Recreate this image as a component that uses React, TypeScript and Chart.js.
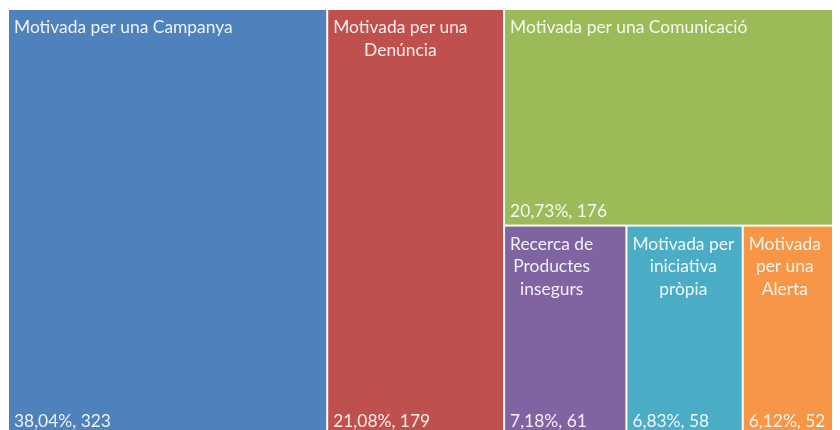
import React, { useEffect, useRef } from "react";
import { Chart, registerables } from "chart.js";

Chart.register(...registerables);

const categories = [
  "Motivada per una Campanya",
  "Motivada per una Denúncia",
  "Motivada per una Comunicació",
  "Recerca de Productes insegurs",
  "Motivada per iniciativa pròpia",
  "Motivada per una Alerta",
];
const values = [323, 179, 176, 61, 58, 52];
const colors = ["#4F81BD", "#C0504D", "#9BBB59", "#8064A2", "#4BACC6", "#F79646"];

const FONT = "17.4px Lato";
const TEXT_COLOR = "rgba(255,255,255,0.9)";

function wrap(ctx: CanvasRenderingContext2D, text: string, maxW: number): string[] {
  const words = text.split(" ");
  const lines: string[] = [];
  let cur = "";
  for (const w of words) {
    const test = cur ? cur + " " + w : w;
    if (cur && ctx.measureText(test).width > maxW) {
      lines.push(cur);
      cur = w;
    } else cur = test;
  }
  if (cur) lines.push(cur);
  return lines;
}

const treemapPlugin = {
  id: "treemapCells",
  afterDatasetsDraw(chart: any) {
    const { ctx, chartArea, scales } = chart;
    const xs = scales.x;
    const ys = scales.y;
    const W = chartArea.right - chartArea.left;
    const H = chartArea.bottom - chartArea.top;
    const total = values.reduce((a, b) => a + b, 0);
    let rx = 0, ry = 0, rw = 1, rh = 1, rem = total;
    ctx.save();
    values.forEach((v, i) => {
      let c: { x0: number; y0: number; x1: number; y1: number };
      if (i === values.length - 1) {
        c = { x0: rx, y0: ry, x1: rx + rw, y1: ry + rh };
      } else if (rw * W >= rh * H) {
        const w = (rw * v) / rem;
        c = { x0: rx, y0: ry, x1: rx + w, y1: ry + rh };
        rx += w;
        rw -= w;
      } else {
        const h = (rh * v) / rem;
        c = { x0: rx, y0: ry, x1: rx + rw, y1: ry + h };
        ry += h;
        rh -= h;
      }
      rem -= v;
      const px0 = xs.getPixelForValue(c.x0);
      const px1 = xs.getPixelForValue(c.x1);
      const py0 = ys.getPixelForValue(c.y0);
      const py1 = ys.getPixelForValue(c.y1);
      ctx.fillStyle = colors[i];
      ctx.fillRect(px0 + 1, py0 + 1, px1 - px0 - 2, py1 - py0 - 2);

      ctx.font = FONT;
      ctx.fillStyle = TEXT_COLOR;
      const lines = wrap(ctx, categories[i], px1 - px0 - 10);
      const blockW = Math.max(...lines.map((l) => ctx.measureText(l).width));
      const cx = px0 + 6 + blockW / 2;
      ctx.textAlign = "center";
      ctx.textBaseline = "alphabetic";
      lines.forEach((l, k) => {
        ctx.fillText(l, cx, py0 + 24 + k * 22.5);
      });
      const pct = ((v / total) * 100).toFixed(2).replace(".", ",");
      ctx.textAlign = "left";
      ctx.fillText(`${pct}%, ${v}`, px0 + 6, py1 - 9);
    });
    ctx.restore();
  },
};

export default function App() {
  const ref = useRef<HTMLCanvasElement>(null);
  useEffect(() => {
    if (!ref.current) return;
    const chart = new Chart(ref.current, {
      type: "scatter",
      data: { datasets: [{ label: "cells", data: [] }] },
      options: {
        animation: false,
        responsive: false,
        maintainAspectRatio: false,
        devicePixelRatio: 1,
        layout: { padding: { top: 1, left: 0, right: 0, bottom: 0 } },
        plugins: { legend: { display: false }, tooltip: { enabled: false } },
        scales: {
          x: { type: "linear", min: 0, max: 1, display: false },
          y: { type: "linear", min: 0, max: 1, reverse: true, display: false },
        },
      },
      plugins: [treemapPlugin],
    });
    return () => chart.destroy();
  }, []);
  return (
    <>
      <style>{"html,body{overflow:hidden}"}</style>
      <div style={{ position: "relative", width: 839, height: 428 }}>
        <canvas ref={ref} width={839} height={428} style={{ display: "block" }} />
      </div>
    </>
  );
}
